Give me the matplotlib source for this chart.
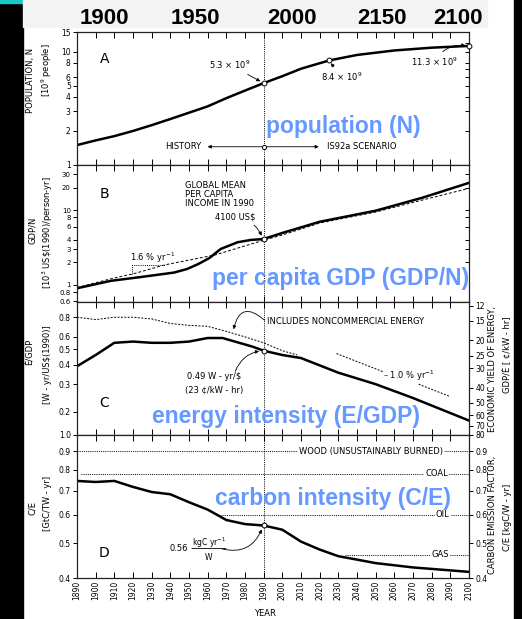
import numpy as np
import matplotlib
matplotlib.use("Agg")
import matplotlib.pyplot as plt
from matplotlib.patches import Rectangle
from matplotlib.ticker import FixedLocator, FixedFormatter, NullLocator

plt.rcParams['font.family'] = ['DejaVu Sans']
plt.rcParams['font.size'] = 6

# ---- data ----
decades = list(range(1890, 2101, 10))
header_labels = ["1900", "1950", "2000", "2150", "2100"]

# A: population, 10^9 people
pop_years = [1890, 1900, 1910, 1920, 1930, 1940, 1950, 1960, 1970, 1980, 1990]
pop_hist = [1.5, 1.65, 1.8, 2.0, 2.25, 2.55, 2.9, 3.3, 3.9, 4.55, 5.3]
pop_scen_years = [1990, 2000, 2010, 2025, 2040, 2060, 2080, 2100]
pop_scen = [5.3, 6.1, 7.1, 8.4, 9.4, 10.3, 10.9, 11.3]
pop_mark_years = [1990, 2025, 2100]
pop_mark_vals = [5.3, 8.4, 11.3]

# B: per capita GDP, 10^3 US$(1990)/person-yr
gdp_years = [1890, 1908, 1926, 1942, 1949, 1955, 1961, 1967, 1976, 1983, 1990,
             2000, 2020, 2050, 2075, 2100]
gdp_vals = [0.90, 1.13, 1.29, 1.46, 1.63, 1.9, 2.29, 3.02, 3.71, 3.98, 4.1,
            4.94, 6.97, 9.8, 14.6, 23.1]
gdp_trend_years = [1890, 1905, 1912, 1920, 1937, 1964, 1990, 2000, 2020, 2050, 2075, 2100]
gdp_trend_vals = [0.92, 1.15, 1.27, 1.40, 1.85, 2.51, 3.95, 4.64, 6.7, 9.4, 13.6, 19.5]
slope_tri_years = [1919.5, 1919.5, 1937]
slope_tri_vals = [1.40, 1.85, 1.85]

# C: energy intensity, W-yr/US$(1990)
ei_years = [1890, 1900, 1910, 1920, 1930, 1940, 1950, 1960, 1968, 1984, 1990,
            2000, 2010, 2030, 2050, 2070, 2100]
ei_vals = [0.39, 0.46, 0.55, 0.56, 0.55, 0.55, 0.56, 0.59, 0.59, 0.52, 0.49,
           0.46, 0.44, 0.355, 0.30, 0.245, 0.176]
ei_nc_years = [1890, 1900, 1910, 1920, 1930, 1940, 1950, 1960, 1970, 1980, 1990, 2000, 2008]
ei_nc_vals = [0.80, 0.773, 0.80, 0.80, 0.78, 0.73, 0.71, 0.70, 0.65, 0.60, 0.55, 0.49, 0.46]
ei_rate_seg1_years = [2029, 2054]
ei_rate_seg1_vals = [0.47, 0.36]
ei_rate_seg2_years = [2073, 2090]
ei_rate_seg2_vals = [0.30, 0.25]
yield_ticks = [12, 15, 20, 25, 30, 40, 50, 60, 70, 80]
cents_per_kwh = 11.4   # ¢/kW-hr = 11.4 / (W-yr/$)

# D: carbon intensity, GtC/TW-yr
ci_years = [1890, 1900, 1910, 1920, 1930, 1940, 1950, 1960, 1970, 1980, 1990,
            2000, 2010, 2020, 2030, 2040, 2050, 2070, 2090, 2100]
ci_vals = [0.745, 0.74, 0.745, 0.717, 0.694, 0.684, 0.65, 0.62, 0.58, 0.565, 0.56,
           0.545, 0.505, 0.48, 0.46, 0.45, 0.44, 0.428, 0.42, 0.416]
fuel_names = ["WOOD (UNSUSTAINABLY BURNED)", "COAL", "OIL", "GAS"]
fuel_factors = [0.9, 0.78, 0.6, 0.464]
fuel_start = [1890, 1892, 1966.6, 2033.6]
fuel_label_year = [2047.6, 2082.6, 2086, 2084.5]

# ---- figure ----
W, H = 522, 619
fig = plt.figure(figsize=(W / 100, H / 100), dpi=100)


def fx(x):
    return x / W


def fy(y):
    return 1 - y / H


for r, c in [((0, 0, fx(23), 1), 'black'),
             ((fx(514), 0, 1 - fx(514), 1), 'black'),
             ((0, fy(3), fx(23), 1 - fy(3)), '#19c8c8'),
             ((fx(23), fy(27), fx(487) - fx(23), 1 - fy(27)), '#f3f3f3')]:
    fig.patches.append(Rectangle(r[:2], r[2], r[3], transform=fig.transFigure,
                                 color=c, zorder=-5))

L, AW = fx(77), 392 / W
axA = fig.add_axes([L, fy(165), AW, 133 / H])
axB = fig.add_axes([L, fy(302), AW, 137 / H])
axC = fig.add_axes([L, fy(435), AW, 133 / H])
axD = fig.add_axes([L, fy(578), AW, 143 / H])

dot = (0, (1, 1.2))
arrow = dict(arrowstyle='-|>', lw=0.6, color='k', mutation_scale=5, shrinkA=1, shrinkB=2)
TICK_FS = 5.5


def style(ax, ylim, ticks, labels, fs=TICK_FS):
    ax.set_xlim(1890, 2100)
    ax.set_yscale('log')
    ax.set_ylim(*ylim)
    ax.yaxis.set_major_locator(FixedLocator(ticks))
    ax.yaxis.set_major_formatter(FixedFormatter(labels))
    ax.yaxis.set_minor_locator(NullLocator())
    ax.set_xticks(decades)
    ax.xaxis.set_minor_locator(NullLocator())
    ax.tick_params(axis='x', direction='in', top=True, bottom=True, length=4,
                   width=0.7, labelbottom=False, labelsize=TICK_FS)
    ax.tick_params(axis='y', direction='out', length=3, width=0.7, pad=1.5,
                   labelsize=fs)
    for s in ax.spines.values():
        s.set_linewidth(0.9)
        s.set_color('#222222')
    ax.axvline(1990, ls=dot, color='k', lw=0.7, zorder=1)


def right_axis(ax, ylim, ticks, labels, direction):
    tw = ax.twinx()
    tw.set_yscale('log')
    tw.set_ylim(*ylim)
    tw.yaxis.set_major_locator(FixedLocator(ticks))
    tw.yaxis.set_major_formatter(FixedFormatter(labels))
    tw.yaxis.set_minor_locator(NullLocator())
    tw.tick_params(axis='y', direction=direction, length=3, width=0.7, pad=1.5,
                   labelsize=TICK_FS)
    for s in tw.spines.values():
        s.set_visible(False)
    return tw


# A
a_ticks = [1, 2, 3, 4, 5, 6, 8, 10, 15]
style(axA, (1, 15), a_ticks, [str(t) for t in a_ticks])
right_axis(axA, (1, 15), [2, 3, 4, 5, 6, 7, 8, 10, 12], [''] * 9, 'in')
axA.plot(pop_years, pop_hist, color='k', lw=1.8)
axA.plot(pop_scen_years, pop_scen, color='k', lw=1.8)
axA.plot(pop_mark_years, pop_mark_vals, 'o', mfc='white', mec='k', ms=3.5, mew=0.7,
         zorder=5, clip_on=False)
axA.annotate("5.3 × 10$^9$", xy=(1989.5, 5.35), xytext=(1972, 7.7), ha='center',
             va='center', arrowprops=arrow)
axA.annotate("8.4 × 10$^9$", xy=(2025, 8.3), xytext=(2032, 6.05), ha='center',
             va='center', arrowprops=arrow)
axA.annotate("11.3 × 10$^9$", xy=(2099.5, 11.3), xytext=(2081.6, 8.2), ha='center',
             va='center', arrowprops=dict(arrow, connectionstyle='arc3,rad=-0.35'))
axA.annotate("", xy=(1958.5, 1.45), xytext=(1990, 1.45), arrowprops=arrow)
axA.annotate("", xy=(2021, 1.45), xytext=(1990, 1.45), arrowprops=arrow)
axA.plot([1990], [1.45], 'o', mfc='white', mec='k', ms=3, mew=0.7, zorder=5)
axA.text(1956.5, 1.45, "HISTORY", ha='right', va='center')
axA.text(2024, 1.45, "IS92a SCENARIO", ha='left', va='center')
axA.text(0.071, 0.80, "A", transform=axA.transAxes, fontsize=10, ha='center', va='center')

# B
b_ticks = [0.6, 0.8, 1, 2, 3, 4, 6, 8, 10, 20, 30]
b_labels = ["0.6", "0.8", "1", "2", "3", "4", "6", "8", "10", "20", "30"]
style(axB, (0.59, 40), b_ticks, b_labels, fs=5)
right_axis(axB, (0.59, 40), [2, 3, 4, 6, 8, 10, 20, 30], [''] * 8, 'in')
axB.plot(gdp_trend_years, gdp_trend_vals, color='k', lw=0.7, ls=(0, (3, 2)))
axB.plot(gdp_years, gdp_vals, color='k', lw=1.8)
axB.plot(slope_tri_years, slope_tri_vals, color='k', lw=0.7, ls=dot)
axB.plot([1990], [4.1], 'o', mfc='white', mec='k', ms=3.5, mew=0.7, zorder=5)
axB.text(0.2755, 0.885, "GLOBAL MEAN\nPER CAPITA\nINCOME IN 1990", transform=axB.transAxes,
         ha='left', va='top', linespacing=1.05)
axB.annotate("4100 US$", xy=(1989.5, 4.2), xytext=(1974.6, 8.1), ha='center', va='center',
             arrowprops=dict(arrow, connectionstyle='arc3,rad=-0.3'))
axB.text(1918.4, 2.3, "1.6 % yr$^{-1}$", ha='left', va='center')
axB.text(0.071, 0.79, "B", transform=axB.transAxes, fontsize=10, ha='center', va='center')

# C
c_ylim = (cents_per_kwh / 80, 1.0)
c_ticks = [0.2, 0.3, 0.4, 0.5, 0.6, 0.8]
style(axC, c_ylim, c_ticks, [str(t) for t in c_ticks])
right_axis(axC, (80, cents_per_kwh), yield_ticks, [str(t) for t in yield_ticks], 'out')
axC.plot(ei_nc_years, ei_nc_vals, color='k', lw=0.7, ls=(0, (2, 1.5)))
axC.plot(ei_rate_seg1_years, ei_rate_seg1_vals, color='k', lw=0.7, ls=(0, (2, 1.5)))
axC.plot(ei_rate_seg2_years, ei_rate_seg2_vals, color='k', lw=0.7, ls=(0, (2, 1.5)))
axC.plot(ei_years, ei_vals, color='k', lw=1.8)
axC.plot([1990], [0.49], 'o', mfc='white', mec='k', ms=3.5, mew=0.7, zorder=5)
axC.text(1991.9, 0.755, "INCLUDES NONCOMMERCIAL ENERGY", ha='left', va='center')
axC.annotate("", xy=(1973.6, 0.644), xytext=(1991, 0.755),
             arrowprops=dict(arrow, connectionstyle='arc3,rad=0.9'))
axC.text(1963.5, 0.337, "0.49 W - yr/$", ha='center', va='center')
axC.text(1963.5, 0.275, "(23 ¢/kW - hr)", ha='center', va='center')
axC.annotate("", xy=(1989, 0.49), xytext=(1974.5, 0.355),
             arrowprops=dict(arrow, connectionstyle='arc3,rad=-0.3'))
axC.text(2054, 0.337, "– 1.0 % yr$^{-1}$", ha='left', va='center')
axC.text(0.069, 0.24, "C", transform=axC.transAxes, fontsize=10, ha='center', va='center')

# D
d_ticks = [0.4, 0.5, 0.6, 0.7, 0.8, 0.9, 1.0]
style(axD, (0.4, 1.0), d_ticks, [str(t) for t in d_ticks])
right_axis(axD, (0.4, 1.0), d_ticks[:-1], [str(t) for t in d_ticks[:-1]], 'out')
axD.hlines(fuel_factors, fuel_start, 2100, colors='k', lw=0.7, linestyles=[dot])
for name, f, yr in zip(fuel_names, fuel_factors, fuel_label_year):
    axD.text(yr, f, name, ha='center', va='center',
             bbox=dict(facecolor='white', edgecolor='none', pad=0.6))
axD.plot(ci_years, ci_vals, color='k', lw=1.8)
axD.plot([1990], [0.56], 'o', mfc='white', mec='k', ms=3.5, mew=0.7, zorder=5)
axD.text(1944.6, 0.483, "0.56", ha='center', va='center')
frac = axD.text(1960.7, 0.483, "kgC yr$^{-1}$\nW", ha='center', va='center',
                multialignment='center', linespacing=1.4, fontsize=5.5)
# fraction bar across the middle of the unit text
axD.annotate("", xy=(1, 0.5), xycoords=frac, xytext=(0, 0.5), textcoords=frac,
             arrowprops=dict(arrowstyle='-', lw=0.6, color='k', shrinkA=0, shrinkB=0))
axD.annotate("", xy=(1989.5, 0.555), xytext=(1967, 0.483),
             arrowprops=dict(arrow, connectionstyle='arc3,rad=0.45'))
axD.text(0.069, 0.175, "D", transform=axD.transAxes, fontsize=10, ha='center', va='center')
axD.tick_params(axis='x', labelbottom=True, labelrotation=90, pad=2)
axD.set_xticklabels([str(d) for d in decades])

# axis titles
side_labels = [
    ("POPULATION, N", 30, 80), ("[10$^9$ people]", 47, 70),
    ("GDP/N", 32, 230), (r"[10$^3$ US\$(1990)/person-yr]", 48, 233),
    ("Ė/GDP", 30, 352), ("[W - yr/US$(1990)]", 48, 365),
    ("C/E", 32, 508), ("[GtC/TW - yr]", 48, 503),
    ("ECONOMIC YIELD OF ENERGY,", 493, 369), ("GDP/Ė [ ¢/kW - hr]", 508, 355),
    ("CARBON EMISSION FACTOR,", 493, 515), ("C/E [kgC/W - yr]", 507, 517),
]
for txt, x, y in side_labels:
    fig.text(fx(x), fy(y), txt, rotation=90, ha='center', va='center')
fig.text(fx(265), fy(614), "YEAR", ha='center', va='center')

# header years and blue overlay titles
for lab, x in zip(header_labels, [104, 195, 292, 382, 458]):
    fig.text(fx(x), fy(19), lab, ha='center', va='center', fontsize=16,
             fontweight='bold', family='Liberation Sans')

blue = '#6699ff'
for txt, x, y in [("population (N)", 266, 127),
                  ("per capita GDP (GDP/N)", 212, 278),
                  ("energy intensity (E/GDP)", 152, 417),
                  ("carbon intensity (C/E)", 215, 499)]:
    fig.text(fx(x), fy(y), txt, ha='left', va='center', color=blue, fontsize=16.5,
             fontweight='bold', family='Liberation Sans', zorder=10)

fig.savefig("out.png", dpi=100)
